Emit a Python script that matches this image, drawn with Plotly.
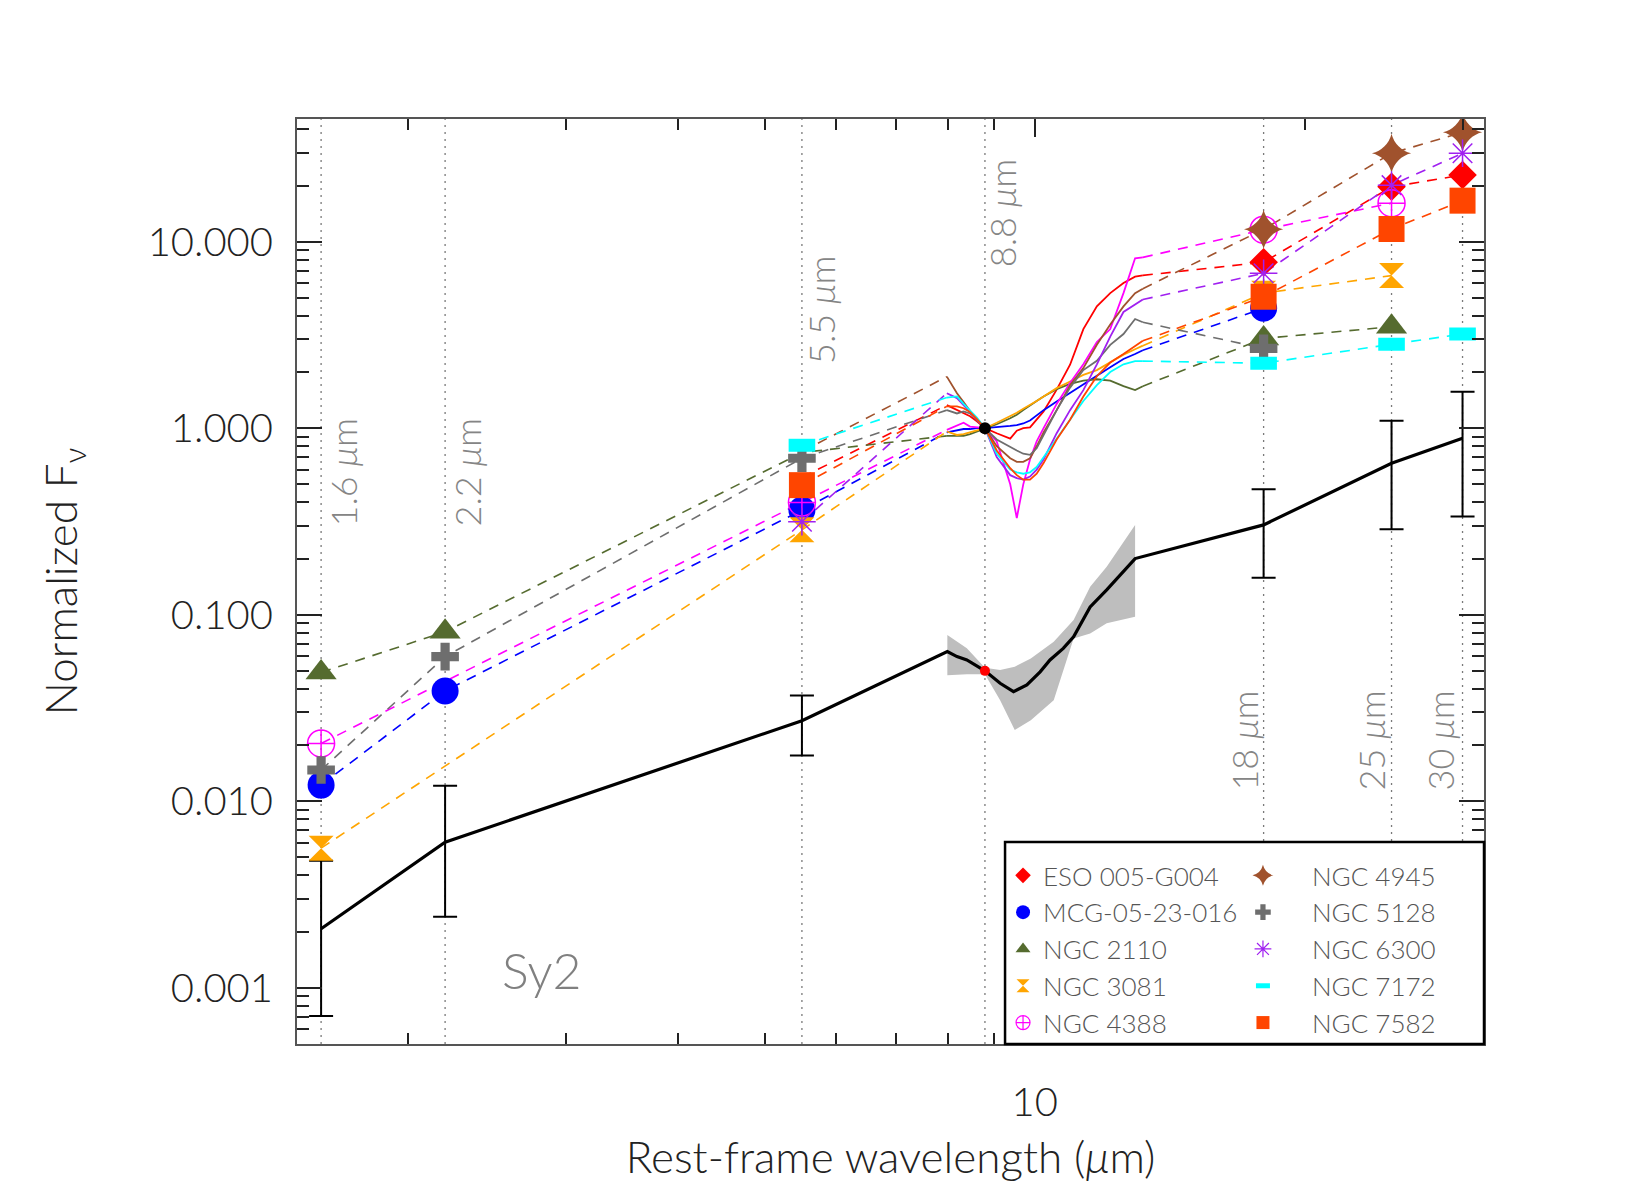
import math
import plotly.graph_objects as go

FONT = "Lato, DejaVu Sans, sans-serif"
FW = 300

# ---------------- data ----------------
PHOT_WL = [1.6, 2.2, 5.5, 18.0, 25.0, 30.0]
NORM_WL = 8.8
LINE_LABELS = ["1.6 <i>μ</i>m", "2.2 <i>μ</i>m", "5.5 <i>μ</i>m", "18 <i>μ</i>m", "25 <i>μ</i>m", "30 <i>μ</i>m"]
NORM_LABEL = "8.8 <i>μ</i>m"

SPEC_WL = [7.98, 8.19, 8.33, 8.47, 8.62, 8.8, 9.07, 9.39, 9.55, 9.71, 9.88,
           10.05, 10.23, 10.58, 10.95, 11.33, 11.73, 12.14, 12.56, 12.94, 13.2]

NAMES = ["ESO 005-G004", "MCG-05-23-016", "NGC 2110", "NGC 3081", "NGC 4388",
         "NGC 4945", "NGC 5128", "NGC 6300", "NGC 7172", "NGC 7582"]

# photometry at PHOT_WL (None = no data); *_MARK: 1 = symbol drawn
ESO_PHOT = [None, None, 0.545, 7.76, 19.7, 22.8]
ESO_MARK = [0, 0, 0, 1, 1, 1]
MCG_PHOT = [0.0122, 0.039, 0.364, 4.40, None, None]
MCG_MARK = [1, 1, 1, 1, 0, 0]
N2110_PHOT = [0.049, 0.081, 0.74, 3.03, 3.50, None]
N2110_MARK = [1, 1, 0, 1, 1, 0]
N3081_PHOT = [0.0056, None, 0.285, 5.3, 6.58, None]
N3081_MARK = [1, 0, 1, 1, 1, 0]
N4388_PHOT = [0.0204, None, 0.40, 11.6, 16.1, None]
N4388_MARK = [1, 0, 1, 1, 1, 0]
N4945_PHOT = [None, None, 0.75, 11.65, 29.8, 38.6]
N4945_MARK = [0, 0, 0, 1, 1, 1]
N5128_PHOT = [0.0147, 0.0596, 0.69, 2.68, None, None]
N5128_MARK = [1, 1, 1, 1, 0, 0]
N6300_PHOT = [None, None, 0.315, 6.77, 20.1, 29.8]
N6300_MARK = [0, 0, 1, 1, 1, 1]
N7172_PHOT = [None, None, 0.81, 2.23, 2.82, 3.20]
N7172_MARK = [0, 0, 1, 1, 1, 1]
N7582_PHOT = [None, None, 0.495, 5.07, 11.7, 16.6]
N7582_MARK = [0, 0, 1, 1, 1, 1]

# spectra at SPEC_WL, normalised to 1 at 8.8 um
ESO_SPEC = [1.33, 1.25, 1.21, 1.16, 1.09, 1.00, 0.94, 0.88, 0.97, 1.00, 1.01, 1.11, 1.23, 1.61, 2.19, 3.40, 4.50, 5.30, 6.00, 6.50, 6.60]
MCG_SPEC = [0.95, 0.97, 0.99, 0.99, 1.00, 1.00, 1.01, 1.03, 1.04, 1.06, 1.10, 1.17, 1.25, 1.39, 1.55, 1.72, 1.91, 2.12, 2.35, 2.50, 2.62]
N2110_SPEC = [0.91, 0.91, 0.91, 0.93, 0.96, 1.00, 1.05, 1.13, 1.18, 1.25, 1.33, 1.40, 1.48, 1.62, 1.73, 1.80, 1.83, 1.80, 1.68, 1.60, 1.68]
N3081_SPEC = [0.96, 0.92, 0.93, 0.95, 0.98, 1.00, 1.07, 1.16, 1.21, 1.27, 1.33, 1.40, 1.48, 1.64, 1.78, 1.93, 2.05, 2.25, 2.48, 2.65, 2.77]
N4388_SPEC = [0.98, 1.03, 1.07, 1.02, 1.01, 1.00, 0.85, 0.50, 0.33, 0.50, 0.68, 0.85, 1.00, 1.35, 1.75, 2.20, 2.90, 3.40, 5.30, 8.15, 8.24]
N4945_SPEC = [1.89, 1.54, 1.38, 1.23, 1.10, 1.00, 0.80, 0.69, 0.66, 0.66, 0.69, 0.80, 0.95, 1.25, 1.70, 2.10, 2.80, 3.60, 4.50, 5.30, 5.60]
N5128_SPEC = [1.25, 1.20, 1.23, 1.20, 1.12, 1.00, 0.87, 0.79, 0.76, 0.73, 0.72, 0.78, 0.92, 1.25, 1.65, 2.05, 2.30, 2.80, 3.20, 3.85, 3.70]
N6300_SPEC = [1.54, 1.45, 1.33, 1.22, 1.10, 1.00, 0.70, 0.56, 0.54, 0.53, 0.55, 0.60, 0.68, 0.94, 1.25, 1.60, 2.20, 3.10, 4.20, 4.60, 4.90]
N7172_SPEC = [1.46, 1.48, 1.35, 1.25, 1.14, 1.00, 0.73, 0.60, 0.58, 0.57, 0.58, 0.62, 0.70, 0.87, 1.10, 1.40, 1.70, 2.00, 2.20, 2.29, 2.29]
N7582_SPEC = [1.31, 1.31, 1.28, 1.22, 1.12, 1.00, 0.76, 0.61, 0.56, 0.53, 0.53, 0.57, 0.65, 0.87, 1.11, 1.48, 1.90, 2.25, 2.50, 2.75, 2.94]

# Sy2 mean SED
MEAN_PHOT = [0.00207, 0.00603, 0.0270, 0.303, 0.649, 0.883]
MEAN_LO = [0.000705, 0.0024, 0.0176, 0.158, 0.287, 0.336]
MEAN_HI = [0.0048, 0.0121, 0.0369, 0.47, 1.097, 1.57]
MEAN_SPEC_WL = [7.99, 8.19, 8.40, 8.8, 9.15, 9.47, 9.80, 10.14, 10.40, 10.76, 11.05, 11.53, 12.03, 12.94]
MEAN_SPEC = [0.0634, 0.0596, 0.0572, 0.050, 0.0429, 0.0387, 0.0420, 0.0494, 0.0572, 0.0660, 0.0762, 0.110, 0.136, 0.200]
BAND_WL = [7.99, 8.40, 8.8, 9.15, 9.50, 9.90, 10.5, 11.05, 11.53, 12.03, 12.94]
BAND_HI = [0.0778, 0.066, 0.052, 0.0505, 0.0526, 0.0583, 0.0716, 0.0938, 0.141, 0.181, 0.303]
BAND_LO = [0.0474, 0.048, 0.048, 0.0348, 0.0241, 0.0272, 0.0348, 0.0745, 0.0794, 0.090, 0.0975]
MEAN_NORM = 0.050
SY_LABEL = "Sy2"

Y_TICKS = [0.001, 0.01, 0.1, 1, 10]
Y_TICKTEXT = ["0.001", "0.010", "0.100", "1.000", "10.000"]
X_TICKS = [10]
X_TICKTEXT = ["10"]

PHOT = [ESO_PHOT, MCG_PHOT, N2110_PHOT, N3081_PHOT, N4388_PHOT,
        N4945_PHOT, N5128_PHOT, N6300_PHOT, N7172_PHOT, N7582_PHOT]
MARK = [ESO_MARK, MCG_MARK, N2110_MARK, N3081_MARK, N4388_MARK,
        N4945_MARK, N5128_MARK, N6300_MARK, N7172_MARK, N7582_MARK]
SPEC = [ESO_SPEC, MCG_SPEC, N2110_SPEC, N3081_SPEC, N4388_SPEC,
        N4945_SPEC, N5128_SPEC, N6300_SPEC, N7172_SPEC, N7582_SPEC]

# ---------------- styles ----------------
COLORS = ["#FF0000", "#0000FF", "#556B2F", "#FFA500", "#FF00FF",
          "#A0522D", "#6E6E6E", "#A020F0", "#00FFFF", "#FF4500"]
SYMBOLS = ["diamond", "circle", "triangle-up", "hourglass", "circle-cross-open",
           "star-diamond", "cross", "asterisk-open", "line-ew-open", "square"]
SIZES = [22, 27, 27, 25, 27, 28, 23, 23, 19, 26]
LINEW = [0, 0, 0, 0, 1.5, 0, 0, 1.5, 13, 0]
LEG_SIZES = [12, 14, 13, 13, 14, 15, 13, 14, 10, 13]
LEG_LINEW = [0, 0, 0, 0, 1.2, 0, 0, 1.2, 8, 0]

XR = [math.log10(1.504), math.log10(31.7)]
YR = [-3.302, 1.658]
YLO, YHI = 10 ** YR[0], 10 ** YR[1]

fig = go.Figure()

# vertical dotted lines
for w in PHOT_WL + [NORM_WL]:
    fig.add_trace(go.Scatter(x=[w, w], y=[YLO, YHI], mode="lines",
                             line=dict(color="#7a7a7a", width=1.3, dash="2px,5px"),
                             hoverinfo="skip", showlegend=False))

# mean band
fig.add_trace(go.Scatter(x=BAND_WL + BAND_WL[::-1], y=BAND_HI + BAND_LO[::-1],
                         fill="toself", fillcolor="#BEBEBE", mode="lines",
                         line=dict(width=0, color="#BEBEBE"), showlegend=False, hoverinfo="skip"))

# dashed connections
for i in range(len(NAMES)):
    pre = [(w, v) for w, v in zip(PHOT_WL, PHOT[i]) if v is not None and w < SPEC_WL[0]]
    post = [(w, v) for w, v in zip(PHOT_WL, PHOT[i]) if v is not None and w > SPEC_WL[-1]]
    xs = [p[0] for p in pre] + [SPEC_WL[0], None, SPEC_WL[-1]] + [p[0] for p in post]
    ys = [p[1] for p in pre] + [SPEC[i][0], None, SPEC[i][-1]] + [p[1] for p in post]
    fig.add_trace(go.Scatter(x=xs, y=ys, mode="lines", connectgaps=False,
                             line=dict(color=COLORS[i], width=1.6, dash="10px,8px"),
                             showlegend=False, hoverinfo="skip"))

# spectra
for i in range(len(NAMES)):
    fig.add_trace(go.Scatter(x=SPEC_WL, y=SPEC[i], mode="lines",
                             line=dict(color=COLORS[i], width=1.8),
                             showlegend=False))

# mean SED line
mx = PHOT_WL[:3] + MEAN_SPEC_WL + PHOT_WL[3:]
my = MEAN_PHOT[:3] + MEAN_SPEC + MEAN_PHOT[3:]
fig.add_trace(go.Scatter(x=mx, y=my, mode="lines", line=dict(color="black", width=3.2),
                         showlegend=False))
fig.add_trace(go.Scatter(
    x=PHOT_WL, y=MEAN_PHOT, mode="markers", marker=dict(size=1, color="black"),
    error_y=dict(type="data", symmetric=False,
                 array=[h - v for h, v in zip(MEAN_HI, MEAN_PHOT)],
                 arrayminus=[v - l for l, v in zip(MEAN_LO, MEAN_PHOT)],
                 color="black", thickness=2, width=12),
    showlegend=False))

# markers
for i in range(len(NAMES)):
    xs = [w for w, v, m in zip(PHOT_WL, PHOT[i], MARK[i]) if v is not None and m]
    ys = [v for w, v, m in zip(PHOT_WL, PHOT[i], MARK[i]) if v is not None and m]
    fig.add_trace(go.Scatter(x=xs, y=ys, mode="markers",
                             marker=dict(symbol=SYMBOLS[i], size=SIZES[i], color=COLORS[i],
                                         line=dict(color=COLORS[i], width=LINEW[i])),
                             showlegend=False, name=NAMES[i]))

# normalisation dots
fig.add_trace(go.Scatter(x=[NORM_WL], y=[1.0], mode="markers",
                         marker=dict(size=12, color="black"), showlegend=False))
fig.add_trace(go.Scatter(x=[NORM_WL], y=[MEAN_NORM], mode="markers",
                         marker=dict(size=10, color="#FF0000"), showlegend=False))

# legend entries
for i in range(len(NAMES)):
    fig.add_trace(go.Scatter(x=[None], y=[None], mode="markers", name=NAMES[i],
                             marker=dict(symbol=SYMBOLS[i], size=LEG_SIZES[i], color=COLORS[i],
                                         line=dict(color=COLORS[i], width=LEG_LINEW[i])),
                             legend="legend" if i < 5 else "legend2"))

# annotations
ann = []
upper_pos = {0: (0.066, 22), 1: (0.066, 22), 2: (0.942, 19)}
lower_pos = {3: (-1.398, -20), 4: (-1.398, -21), 5: (-1.398, -23)}
for i, lab in enumerate(LINE_LABELS):
    ytop, xs = upper_pos.get(i, lower_pos.get(i))
    ann.append(dict(x=math.log10(PHOT_WL[i]), y=ytop, xref="x", yref="y", text=lab,
                    textangle=-90, xanchor="center", yanchor="top", xshift=xs,
                    showarrow=False, font=dict(size=36, color="#858585", family=FONT, weight=FW)))
ann.append(dict(x=math.log10(NORM_WL), y=1.461, xref="x", yref="y", text=NORM_LABEL,
                textangle=-90, xanchor="center", yanchor="top", xshift=17,
                showarrow=False, font=dict(size=36, color="#858585", family=FONT, weight=FW)))
ann.append(dict(x=math.log10(2.82), y=-2.905, xref="x", yref="y", text=SY_LABEL,
                showarrow=False, font=dict(size=50, color="#808080", family=FONT, weight=FW)))

minor_x = [2, 3, 4, 5, 6, 7, 8, 9, 20, 30]
minor_y = [m * 10 ** e for e in range(-4, 2) for m in range(2, 10)]

fig.update_layout(
    width=1650, height=1200,
    margin=dict(l=297, r=166, t=119, b=156),
    paper_bgcolor="white", plot_bgcolor="white",
    font=dict(family=FONT, color="#222222", weight=FW),
    annotations=ann,
    shapes=[dict(type="rect", xref="paper", yref="paper", x0=0.5965, x1=1.0, y0=0.0, y1=0.2184,
                 fillcolor="white", line=dict(color="black", width=2.5), layer="above")],
    legend=dict(x=0.5948, y=0.2076, xanchor="left", yanchor="top", bgcolor="rgba(0,0,0,0)",
                borderwidth=0, itemwidth=30, tracegroupgap=0,
                font=dict(size=26, color="#555555", family=FONT, weight=FW)),
    legend2=dict(x=0.7725, y=0.2076, xanchor="left", yanchor="top", bgcolor="rgba(0,0,0,0)",
                 borderwidth=0, itemwidth=88, tracegroupgap=0,
                 font=dict(size=26, color="#555555", family=FONT, weight=FW)),
    xaxis=dict(type="log", range=XR, showgrid=False, zeroline=False,
               showline=True, linecolor="#555555", linewidth=2, mirror="ticks",
               ticks="inside", ticklen=18, tickwidth=1.5, tickcolor="#222222",
               tickvals=X_TICKS, ticktext=X_TICKTEXT, ticklabelstandoff=22,
               tickfont=dict(size=40, family=FONT, color="#222222", weight=FW),
               minor=dict(tickvals=minor_x, ticks="inside", ticklen=11, tickwidth=1.5,
                          tickcolor="#222222", showgrid=False),
               title=dict(text="Rest-frame wavelength (<i>μ</i>m)", standoff=18,
                          font=dict(size=44, family=FONT, color="#222222", weight=FW))),
    yaxis=dict(type="log", range=YR, showgrid=False, zeroline=False,
               showline=True, linecolor="#555555", linewidth=2, mirror="ticks",
               ticks="inside", ticklen=25, tickwidth=1.5, tickcolor="#222222",
               tickvals=Y_TICKS, ticktext=Y_TICKTEXT, ticklabelstandoff=14,
               tickfont=dict(size=40, family=FONT, color="#222222", weight=FW),
               minor=dict(tickvals=minor_y, ticks="inside", ticklen=12, tickwidth=1.5,
                          tickcolor="#222222", showgrid=False),
               title=dict(text="Normalized F<sub>ν</sub>", standoff=56,
                          font=dict(size=44, family=FONT, color="#222222", weight=FW))),
)

fig.write_html("out.html")
